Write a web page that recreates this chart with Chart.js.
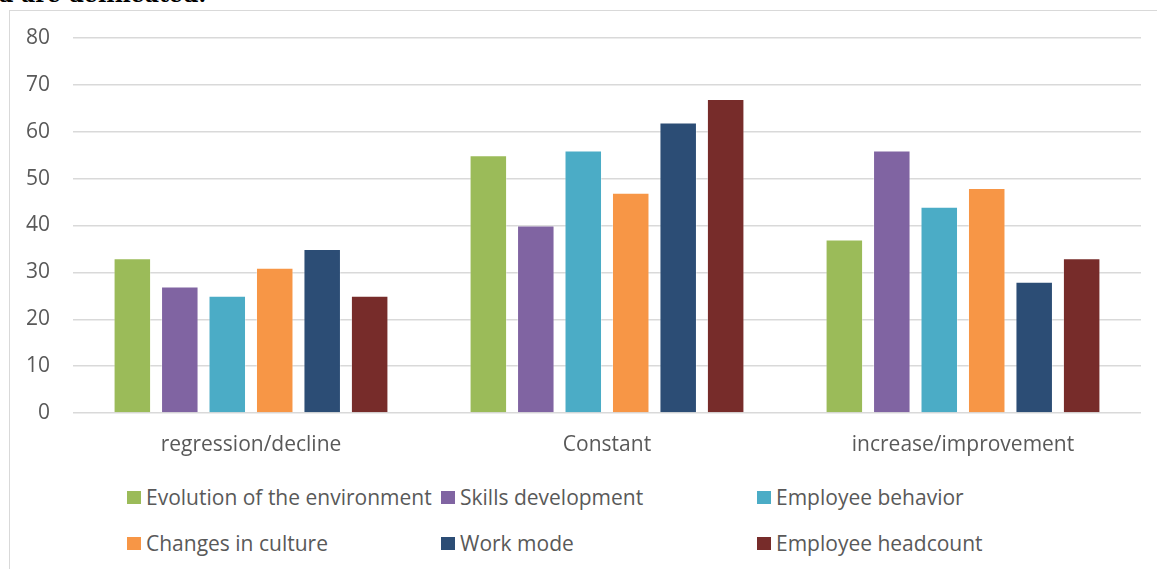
<!DOCTYPE html>
<html>
<head>
<meta charset="utf-8">
<script src="https://cdn.jsdelivr.net/npm/chart.js@4"></script>
<style>
  html, body { margin: 0; padding: 0; background: #fff; }
  body { width: 1157px; height: 569px; position: relative; overflow: hidden; font-family: "Open Sans", sans-serif; }
  #cut { position: absolute; left: -2px; top: -17px; font: bold 22px/22px "DejaVu Serif", serif; color: #000; white-space: nowrap; }
  #frame { position: absolute; left: 9px; top: 10px; right: -2px; bottom: -2px; border-left: 1.5px solid #d9d9d9; border-top: 1.5px solid #d9d9d9; }
  #wrap { position: absolute; left: 0; top: 0; width: 1157px; height: 470px; }
  .lg { position: absolute; display: flex; align-items: center; color: #595959; font-size: 21px; white-space: nowrap; }
  .lg i { display: inline-block; width: 14px; height: 13px; margin-right: 5px; }
</style>
</head>
<body>
<div id="cut">d are delineated.</div>
<div id="frame"></div>
<div id="wrap"><canvas id="c"></canvas></div>
<div id="legend"></div>
<script>
const categories = ['regression/decline', 'Constant', 'increase/improvement'];
const seriesNames = ['Evolution of the environment', 'Skills development', 'Employee behavior',
                     'Changes in culture', 'Work mode', 'Employee headcount'];
const evolutionEnv = [33, 55, 37];
const skillsDev = [27, 40, 56];
const employeeBehavior = [25, 56, 44];
const cultureChanges = [31, 47, 48];
const workMode = [35, 62, 28];
const headcount = [25, 67, 33];
const yTicks = [0, 10, 20, 30, 40, 50, 60, 70, 80];

const colors = ['#9bbb59', '#8064a2', '#4bacc6', '#f79646', '#2c4d75', '#772c2a'];
const values = [evolutionEnv, skillsDev, employeeBehavior, cultureChanges, workMode, headcount];

const textColor = '#595959';
const gridColor = '#d9d9d9';

const chart = new Chart(document.getElementById('c'), {
    type: 'bar',
    data: {
        labels: categories,
        datasets: seriesNames.map((name, i) => ({
            label: name,
            data: values[i],
            backgroundColor: colors[i],
            borderColor: 'rgba(255,255,255,0.35)',
            borderWidth: 1,
            categoryPercentage: 0.8,
            barPercentage: 0.79
        }))
    },
    options: {
        responsive: true,
        maintainAspectRatio: false,
        animation: false,
        layout: { padding: { top: 38, right: 16, bottom: 0, left: 0 } },
        plugins: {
            legend: { display: false },
            tooltip: { enabled: false }
        },
        scales: {
            x: {
                grid: { display: false, drawTicks: false },
                border: { display: false },
                ticks: { color: textColor, font: { family: 'Open Sans', size: 21 }, padding: 19 },
                afterFit: (s) => { s.height = 57; }
            },
            y: {
                min: 0,
                max: 80,
                afterBuildTicks: (s) => { s.ticks = yTicks.map(v => ({ value: v })); },
                grid: { color: gridColor, lineWidth: 1.5, drawTicks: false },
                border: { display: false },
                ticks: { color: textColor, font: { family: 'Open Sans', size: 21 }, padding: 23 },
                afterFit: (s) => { s.width = 73; }
            }
        }
    }
});

// Excel-style legend: three aligned columns, two rows
const legendCols = [127, 441, 757];
const legendRows = [497, 543];
const legendEl = document.getElementById('legend');
chart.data.datasets.forEach((ds, i) => {
    const item = document.createElement('div');
    item.className = 'lg';
    item.style.left = legendCols[i % 3] + 'px';
    item.style.top = (legendRows[Math.floor(i / 3)] - 14) + 'px';
    item.style.height = '28px';
    item.innerHTML = '<i style="background:' + ds.backgroundColor + '"></i>' + ds.label;
    legendEl.appendChild(item);
});
</script>
</body>
</html>
